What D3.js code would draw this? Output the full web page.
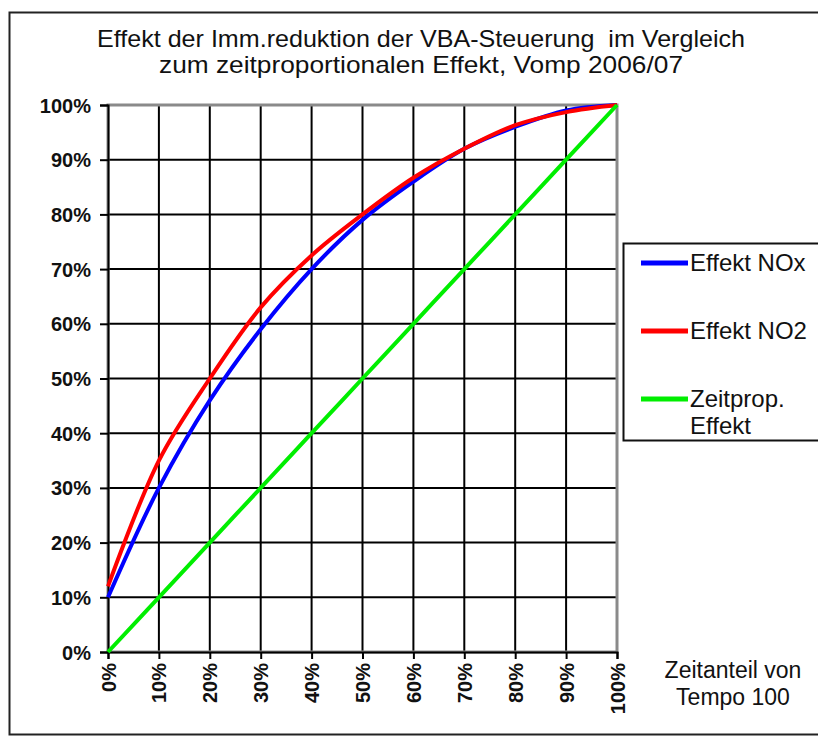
<!DOCTYPE html>
<html>
<head>
<meta charset="utf-8">
<script src="https://cdn.jsdelivr.net/npm/d3@7"></script>
<style>
  body { margin: 0; background: #fff; }
  svg text { font-family: "Liberation Sans", Arial, sans-serif; fill: #111; }
</style>
</head>
<body>
<script>
// data (percent)
var zeitanteil = [0, 10, 20, 30, 40, 50, 60, 70, 80, 90, 100];
var effektNOx  = [10, 30, 46, 59, 70, 79, 86, 92, 96, 99, 100];
var effektNO2  = [12, 35, 50, 63, 72.5, 80, 86.7, 92, 96.3, 98.7, 100];
var zeitprop   = [0, 10, 20, 30, 40, 50, 60, 70, 80, 90, 100];
var seriesNames = ['Effekt NOx', 'Effekt NO2', 'Zeitprop.|Effekt'];
var seriesColors = ['#0000ff', '#ff0000', '#00ee00'];
var yTicks = [0, 10, 20, 30, 40, 50, 60, 70, 80, 90, 100];
var xTicks = [0, 10, 20, 30, 40, 50, 60, 70, 80, 90, 100];

var W = 818, H = 738;
var mLeft = 108, mRight = 617, mTop = 105, mBottom = 652;

var svg = d3.select('body')
  .append('svg')
  .attr('width', W)
  .attr('height', H);

// outer frame
svg.append('rect')
  .attr('x', 9.5).attr('y', 12.5)
  .attr('width', 830).attr('height', 722)
  .attr('fill', 'none')
  .attr('stroke', '#222')
  .attr('stroke-width', 2);

svg.append('text')
  .attr('x', 421).attr('y', 47)
  .attr('text-anchor', 'middle')
  .attr('textLength', 648)
  .attr('lengthAdjust', 'spacingAndGlyphs')
  .style('font-size', '24px')
  .style('white-space', 'pre')
  .text('Effekt der Imm.reduktion der VBA-Steuerung  im Vergleich');
svg.append('text')
  .attr('x', 421).attr('y', 73)
  .attr('text-anchor', 'middle')
  .attr('textLength', 524)
  .attr('lengthAdjust', 'spacingAndGlyphs')
  .style('font-size', '24px')
  .text('zum zeitproportionalen Effekt, Vomp 2006/07');

var x = d3.scaleLinear().domain([0, 100]).range([mLeft, mRight]);
var y = d3.scaleLinear().domain([0, 100]).range([mBottom, mTop]);

// gridlines
svg.append('g')
  .selectAll('line')
  .data(yTicks.slice(1, -1))
  .enter()
  .append('line')
  .attr('x1', mLeft).attr('x2', mRight)
  .attr('y1', d => y(d)).attr('y2', d => y(d))
  .attr('stroke', '#000').attr('stroke-width', 2);

svg.append('g')
  .selectAll('line')
  .data(xTicks.slice(1, -1))
  .enter()
  .append('line')
  .attr('y1', mTop).attr('y2', mBottom)
  .attr('x1', d => x(d)).attr('x2', d => x(d))
  .attr('stroke', '#000').attr('stroke-width', 2);

// plot area border (grey)
svg.append('rect')
  .attr('x', mLeft).attr('y', mTop)
  .attr('width', mRight - mLeft).attr('height', mBottom - mTop)
  .attr('fill', 'none')
  .attr('stroke', '#8a8a8a')
  .attr('stroke-width', 3);

// axes
var yAxis = svg.append('g')
  .attr('transform', 'translate(' + mLeft + ',0)')
  .call(d3.axisLeft(y).tickValues(yTicks).tickSize(8).tickPadding(9).tickFormat(d => d + '%'));
var xAxis = svg.append('g')
  .attr('transform', 'translate(0,' + mBottom + ')')
  .call(d3.axisBottom(x).tickValues(xTicks).tickSize(7).tickFormat(d => d + '%'));

[yAxis, xAxis].forEach(function (a) {
  a.select('.domain').attr('stroke', '#000').attr('stroke-width', 2);
  a.selectAll('.tick line').attr('stroke', '#000').attr('stroke-width', 2);
  a.selectAll('text')
    .style('font-size', '20px')
    .style('font-weight', 'bold')
    .style('font-family', '"Liberation Sans", Arial, sans-serif')
    .attr('fill', '#111');
});
yAxis.selectAll('text').attr('dy', '0.35em');
xAxis.selectAll('text')
  .attr('transform', 'rotate(-90)')
  .attr('text-anchor', 'end')
  .attr('x', -11)
  .attr('y', 0)
  .attr('dy', '0.35em');

var line = d3.line()
  .x((d, i) => x(zeitanteil[i]))
  .y(d => y(d))
  .curve(d3.curveCatmullRom.alpha(0.5));

var series = [effektNOx, effektNO2, zeitprop];
svg.append('g')
  .selectAll('path')
  .data(series)
  .enter()
  .append('path')
  .attr('d', d => line(d))
  .attr('fill', 'none')
  .attr('stroke', (d, i) => seriesColors[i])
  .attr('stroke-width', 4);

// axis title
svg.append('text')
  .attr('x', 733).attr('y', 678)
  .attr('text-anchor', 'middle')
  .style('font-size', '23px')
  .text('Zeitanteil von');
svg.append('text')
  .attr('x', 733).attr('y', 705)
  .attr('text-anchor', 'middle')
  .style('font-size', '23px')
  .text('Tempo 100');

// legend
var legend = svg.append('g');
legend.append('rect')
  .attr('x', 623.5).attr('y', 243.5)
  .attr('width', 210).attr('height', 197)
  .attr('fill', '#fff')
  .attr('stroke', '#111')
  .attr('stroke-width', 2);

var items = legend.selectAll('g')
  .data(seriesNames)
  .enter()
  .append('g')
  .attr('transform', (d, i) => 'translate(641,' + (263 + i * 68) + ')');
items.append('line')
  .attr('x1', 0).attr('x2', 47)
  .attr('stroke', (d, i) => seriesColors[i])
  .attr('stroke-width', 5);
items.each(function (d) {
  var parts = d.split('|');
  var t = d3.select(this).append('text')
    .attr('x', 49).attr('y', 0)
    .style('font-size', '24px');
  parts.forEach(function (p, j) {
    t.append('tspan').attr('x', 49).attr('dy', j === 0 ? '0.35em' : '1.1em').text(p);
  });
});
</script>
</body>
</html>
